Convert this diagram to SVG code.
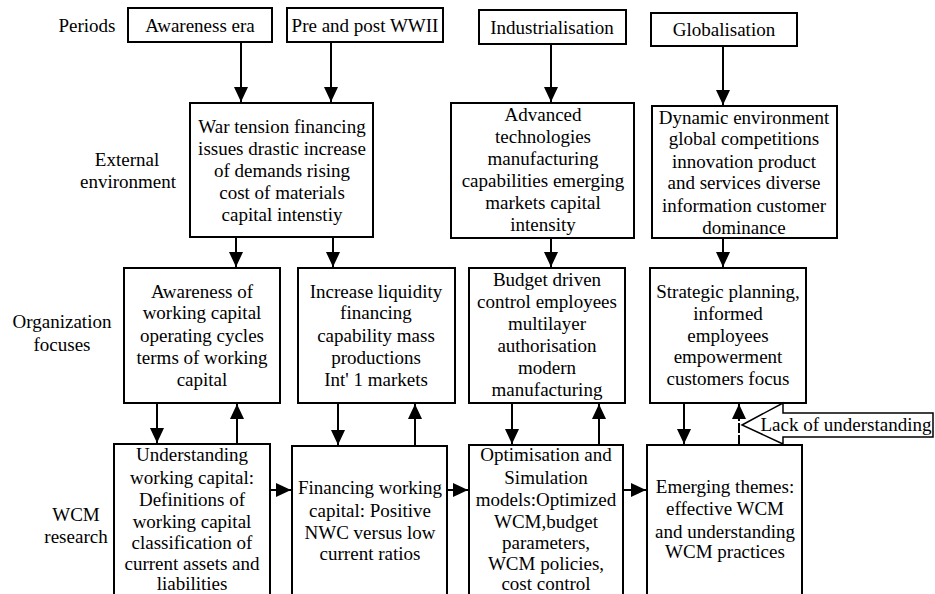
<svg xmlns="http://www.w3.org/2000/svg" width="935" height="594" viewBox="0 0 935 594" font-family="'Liberation Serif', 'Times New Roman', serif">
<style>
text{font-family:'Liberation Serif','Times New Roman',Times,serif;font-size:19px;fill:#000;text-anchor:middle}
.box{fill:#fff;stroke:#000;stroke-width:2}
.c{stroke:#000;stroke-width:2;fill:none}
</style>
<defs>
<marker id="ah" markerUnits="userSpaceOnUse" markerWidth="15" markerHeight="14" refX="15" refY="7" orient="auto">
<path d="M0,0 L15,7 L0,14 z" fill="#000"/>
</marker>
</defs>
<rect width="935" height="594" fill="#fff"/>
<g id="labels">
<text x="87" y="32">Periods</text>
<text x="127" y="166">External</text>
<text x="128" y="188">environment</text>
<text x="62" y="328">Organization</text>
<text x="62" y="351">focuses</text>
<text x="76" y="521">WCM</text>
<text x="76" y="543">research</text>
</g>
<g id="connectors">
<line class="c" x1="241" y1="42" x2="241" y2="102" marker-end="url(#ah)"/>
<line class="c" x1="331" y1="42" x2="331" y2="102" marker-end="url(#ah)"/>
<line class="c" x1="551" y1="44" x2="551" y2="102" marker-end="url(#ah)"/>
<line class="c" x1="723" y1="46" x2="723" y2="105" marker-end="url(#ah)"/>
<line class="c" x1="236" y1="237" x2="236" y2="267" marker-end="url(#ah)"/>
<line class="c" x1="333" y1="237" x2="333" y2="267" marker-end="url(#ah)"/>
<line class="c" x1="551" y1="238" x2="551" y2="267" marker-end="url(#ah)"/>
<line class="c" x1="723" y1="238" x2="723" y2="267" marker-end="url(#ah)"/>
<line class="c" x1="157" y1="403" x2="157" y2="443" marker-end="url(#ah)"/>
<line class="c" x1="237" y1="444" x2="237" y2="404" marker-end="url(#ah)"/>
<line class="c" x1="338" y1="403" x2="338" y2="445" marker-end="url(#ah)"/>
<line class="c" x1="415" y1="446" x2="415" y2="404" marker-end="url(#ah)"/>
<line class="c" x1="512" y1="403" x2="512" y2="444" marker-end="url(#ah)"/>
<line class="c" x1="599" y1="445" x2="599" y2="404" marker-end="url(#ah)"/>
<line class="c" x1="684" y1="403" x2="684" y2="444" marker-end="url(#ah)"/>
<line class="c" x1="739" y1="445" x2="739" y2="404" stroke-dasharray="10 2" marker-end="url(#ah)"/>
<line class="c" x1="270" y1="490" x2="291" y2="490" marker-end="url(#ah)"/>
<line class="c" x1="447" y1="490" x2="468" y2="490" marker-end="url(#ah)"/>
<line class="c" x1="623" y1="490" x2="646" y2="490" marker-end="url(#ah)"/>
</g>
<g id="n-awareness-era"><rect class="box" x="128" y="8" width="144" height="34"/><text x="200" y="32">Awareness era</text></g>
<g id="n-pre-post-wwii"><rect class="box" x="287" y="8" width="156" height="34"/><text x="365" y="32">Pre and post WWII</text></g>
<g id="n-industrialisation"><rect class="box" x="479" y="10" width="147" height="34"/><text x="552" y="34">Industrialisation</text></g>
<g id="n-globalisation"><rect class="box" x="651" y="13" width="146" height="33"/><text x="724" y="36">Globalisation</text></g>
<g id="n-war-tension"><rect class="box" x="190" y="103" width="183" height="134"/>
<text x="282" y="133">War tension financing</text>
<text x="282" y="155">issues drastic increase</text>
<text x="282" y="177">of demands rising</text>
<text x="282" y="199">cost of materials</text>
<text x="282" y="221">capital intenstiy</text></g>
<g id="n-advanced"><rect class="box" x="451" y="103" width="183" height="135"/>
<text x="543" y="121">Advanced</text>
<text x="543" y="143">technologies</text>
<text x="543" y="165">manufacturing</text>
<text x="543" y="187">capabilities emerging</text>
<text x="543" y="209">markets capital</text>
<text x="543" y="231">intensity</text></g>
<g id="n-dynamic"><rect class="box" x="652" y="106" width="185" height="132"/>
<text x="744" y="124">Dynamic environment</text>
<text x="744" y="145">global competitions</text>
<text x="744" y="168">innovation product</text>
<text x="744" y="189">and services diverse</text>
<text x="744" y="212">information customer</text>
<text x="744" y="234">dominance</text></g>
<g id="n-awareness-wc"><rect class="box" x="124" y="268" width="156" height="135"/>
<text x="202" y="298">Awareness of</text>
<text x="202" y="319">working capital</text>
<text x="202" y="342">operating cycles</text>
<text x="202" y="364">terms of working</text>
<text x="202" y="386">capital</text></g>
<g id="n-increase-liquidity"><rect class="box" x="298" y="268" width="157" height="135"/>
<text x="376" y="298">Increase liquidity</text>
<text x="376" y="319">financing</text>
<text x="376" y="342">capability mass</text>
<text x="376" y="364">productions</text>
<text x="376" y="386">Int' 1 markets</text></g>
<g id="n-budget"><rect class="box" x="469" y="268" width="156" height="135"/>
<text x="547" y="286">Budget driven</text>
<text x="547" y="308">control employees</text>
<text x="547" y="330">multilayer</text>
<text x="547" y="352">authorisation</text>
<text x="547" y="374">modern</text>
<text x="547" y="396">manufacturing</text></g>
<g id="n-strategic"><rect class="box" x="650" y="268" width="156" height="135"/>
<text x="728" y="298">Strategic planning,</text>
<text x="728" y="320">informed</text>
<text x="728" y="342">employees</text>
<text x="728" y="363">empowerment</text>
<text x="728" y="385">customers focus</text></g>
<g id="n-understanding"><rect class="box" x="114" y="444" width="156" height="170"/>
<text x="192" y="461">Understanding</text>
<text x="192" y="484">working capital:</text>
<text x="192" y="506">Definitions of</text>
<text x="192" y="528">working capital</text>
<text x="192" y="549">classification of</text>
<text x="192" y="570">current assets and</text>
<text x="192" y="590">liabilities</text></g>
<g id="n-financing"><rect class="box" x="292" y="446" width="155" height="170"/>
<text x="370" y="494">Financing working</text>
<text x="370" y="517">capital: Positive</text>
<text x="370" y="539">NWC versus low</text>
<text x="370" y="560">current ratios</text></g>
<g id="n-optimisation"><rect class="box" x="469" y="445" width="154" height="170"/>
<text x="546" y="461">Optimisation and</text>
<text x="546" y="484">Simulation</text>
<text x="546" y="506">models:Optimized</text>
<text x="546" y="528">WCM,budget</text>
<text x="546" y="549">parameters,</text>
<text x="546" y="570">WCM policies,</text>
<text x="546" y="590">cost control</text></g>
<g id="n-emerging"><rect class="box" x="647" y="445" width="155" height="170"/>
<text x="725" y="493">Emerging themes:</text>
<text x="725" y="515">effective WCM</text>
<text x="725" y="538">and understanding</text>
<text x="725" y="558">WCM practices</text></g>
<g id="n-lack"><polygon points="742,425 783,403 783,413 933,413 933,437 783,437 783,444" fill="#fff" stroke="#000" stroke-width="1.5"/>
<text x="846" y="431">Lack of understanding</text></g>
</svg>
